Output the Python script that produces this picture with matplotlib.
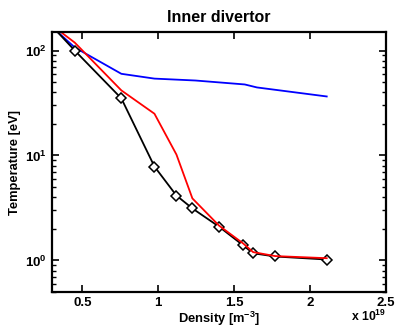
import matplotlib
matplotlib.use("Agg")
import matplotlib.pyplot as plt

plt.rcParams['font.family'] = ['Liberation Sans', 'DejaVu Sans']
plt.rcParams['font.weight'] = 'bold'
plt.rcParams['mathtext.fontset'] = 'custom'
plt.rcParams['mathtext.rm'] = 'Liberation Sans:bold'
plt.rcParams['mathtext.bf'] = 'Liberation Sans:bold'
plt.rcParams['mathtext.default'] = 'bf'

# density in 1e19 m^-3, temperature in eV
dens_black = [0.30, 0.45, 0.757, 0.975, 1.12, 1.225, 1.40, 1.56, 1.625, 1.77, 2.11]
temp_black = [171, 100, 35, 7.85, 4.15, 3.13, 2.1, 1.39, 1.17, 1.09, 1.02]

dens_red = [0.30, 0.45, 0.757, 0.975, 1.12, 1.225, 1.40, 1.56, 1.625, 1.77, 2.11]
temp_red = [174, 119, 41.7, 25, 10.2, 3.9, 2.15, 1.45, 1.2, 1.1, 1.05]

dens_blue = [0.30, 0.45, 0.757, 0.975, 1.245, 1.57, 1.65, 2.11]
temp_blue = [168, 107, 60, 54, 51.8, 47.5, 44.5, 36.5]

fig = plt.figure(figsize=(3.95, 3.27), dpi=100)
ax = fig.add_axes([0.1316, 0.107, 0.8454, 0.795])

ax.plot(dens_blue, temp_blue, color='#0000ff', lw=1.3)
ax.plot(dens_black, temp_black, color='black', lw=1.3, marker='D', ms=5.5,
        mfc='white', mec='black', mew=1.1, markevery=list(range(1, len(dens_black))))
ax.plot(dens_red, temp_red, color='#ff0000', lw=1.3)

ax.set_yscale('log')
ax.set_xlim(0.3, 2.5)
ax.set_ylim(0.5, 150)
ax.set_xticks([0.5, 1, 1.5, 2, 2.5])
ax.set_xticklabels(['0.5', '1', '1.5', '2', '2.5'])

for s in ax.spines.values():
    s.set_linewidth(1.6)
ax.tick_params(which='both', direction='in', top=True, right=True, labelsize=9.5)
ax.tick_params(which='major', length=5, width=1.2)
ax.tick_params(which='minor', length=3, width=1.0)

ax.set_title('Inner divertor', fontsize=11.5, fontweight='bold', pad=7)
ax.set_xlabel('Density [m$^{-3}$]', fontsize=9.3, fontweight='bold', labelpad=1)
ax.set_ylabel('Temperature [eV]', fontsize=9.3, fontweight='bold', labelpad=3)
fig.text(0.932, 0.018, r'x 10$^{19}$', fontsize=8.8, fontweight='bold', ha='center')

fig.savefig('out.png', dpi=100)
